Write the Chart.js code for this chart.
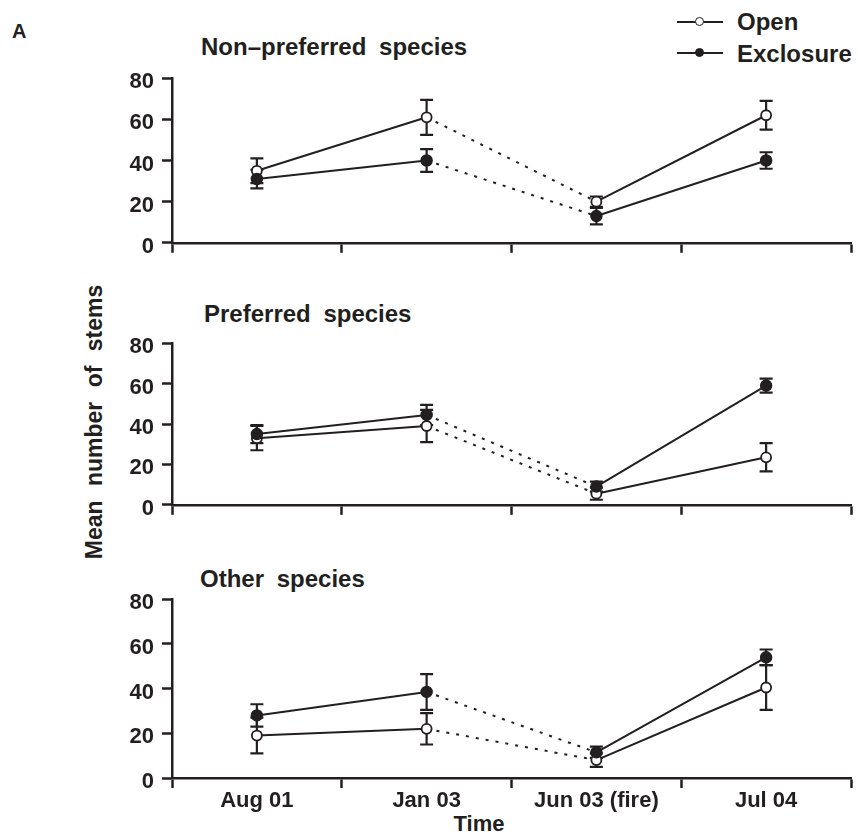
<!DOCTYPE html>
<html lang="en">
<head>
<meta charset="UTF-8" />
<title>Mean number of stems</title>
<script src="https://cdn.jsdelivr.net/npm/chart.js"></script>
<style>
  body { margin: 0; background: #fff; }
  #quadro {
    position: relative; width: 858px; height: 834px; overflow: hidden;
    font-family: "Liberation Sans", Arial, sans-serif; font-weight: bold; color: #231f20;
  }
  .txt { position: absolute; white-space: nowrap; line-height: 1; }
  .titulo { font-size: 24px; word-spacing: 6px; }
  .painel { position: absolute; left: 0; }
  .leg { position: absolute; left: 677px; width: 46px; height: 2px; background: #231f20; }
  .leg span {
    position: absolute; left: 18px; top: -4px; width: 7px; height: 7px;
    border: 1.6px solid #231f20; border-radius: 50%; background: #fff;
  }
  .leg span.cheio { background: #231f20; }
</style>
</head>
<body>
<div id="quadro">
  <div class="txt" style="left:12px; top:21px; font-size:20px;">A</div>

  <div class="leg" style="top:21px;"><span></span></div>
  <div class="txt" style="left:737px; top:10px; font-size:24px;">Open</div>
  <div class="leg" style="top:52px;"><span class="cheio"></span></div>
  <div class="txt" style="left:737px; top:42px; font-size:24px;">Exclosure</div>

  <div class="txt titulo" style="left:201px; top:35px;">Non–preferred species</div>
  <div class="txt titulo" style="left:204px; top:302px;">Preferred species</div>
  <div class="txt titulo" style="left:200px; top:567px;">Other species</div>

  <div class="txt" style="left:94px; top:422px; font-size:23px; word-spacing:8px; transform: translate(-50%, -50%) rotate(-90deg);">Mean number of stems</div>
  <div class="txt" style="left:479px; top:813px; font-size:22px; transform: translateX(-50%);">Time</div>

  <div class="painel" style="top:57px;"><canvas id="g1" width="858" height="207"></canvas></div>
  <div class="painel" style="top:322px;"><canvas id="g2" width="858" height="204"></canvas></div>
  <div class="painel" style="top:578px;"><canvas id="g3" width="858" height="236"></canvas></div>
</div>

<script>
  const categorias = ["Aug 01", "Jan 03", "Jun 03 (fire)", "Jul 04"];
  const yTicks = [0, 20, 40, 60, 80];
  const series = ["Open", "Exclosure"];

  // Non-preferred species
  const naoPrefOpen = [35, 61, 20, 62];
  const naoPrefOpenErr = [6, 8.5, 2.5, 7];
  const naoPrefExcl = [31, 40, 13, 40];
  const naoPrefExclErr = [4.5, 5.5, 4, 4];

  // Preferred species
  const prefOpen = [33, 39, 5.5, 23.5];
  const prefOpenErr = [6, 8, 3, 7];
  const prefExcl = [35, 44.5, 9, 59];
  const prefExclErr = [4.5, 5, 2.5, 3.5];

  // Other species
  const outrasOpen = [19, 22, 8, 40.5];
  const outrasOpenErr = [8, 7, 3, 10];
  const outrasExcl = [28, 38.5, 11.5, 54];
  const outrasExclErr = [5, 8, 2.5, 3.5];

  const tinta = "#231f20";
  const fonte = "'Liberation Sans', Arial, sans-serif";

  // Barras de erro (desenhadas antes das linhas e pontos)
  const barrasErro = {
    id: "barrasErro",
    beforeDatasetsDraw(chart) {
      const ctx = chart.ctx;
      const y = chart.scales.y;
      chart.data.datasets.forEach((ds, i) => {
        chart.getDatasetMeta(i).data.forEach((pt, j) => {
          const e = ds.erros[j];
          const topo = y.getPixelForValue(ds.data[j] + e);
          const base = y.getPixelForValue(ds.data[j] - e);
          ctx.save();
          ctx.strokeStyle = tinta;
          ctx.lineWidth = 2.2;
          ctx.beginPath();
          ctx.moveTo(pt.x, topo); ctx.lineTo(pt.x, base);
          ctx.moveTo(pt.x - 6.5, topo); ctx.lineTo(pt.x + 6.5, topo);
          ctx.moveTo(pt.x - 6.5, base); ctx.lineTo(pt.x + 6.5, base);
          ctx.stroke();
          ctx.restore();
        });
      });
    }
  };

  // trecho Jan 03 -> Jun 03 tracejado
  const tracejado = { borderDash: c => c.p0DataIndex === 1 ? [3, 7] : undefined };

  function painel(id, open, openErr, excl, exclErr, comRotulos, alturaX) {
    new Chart(document.getElementById(id), {
      type: "line",
      data: {
        labels: categorias,
        datasets: [
          {
            label: series[1], data: excl, erros: exclErr, order: 0,
            borderColor: tinta, borderWidth: 2, backgroundColor: tinta,
            pointRadius: 5.5, pointBorderWidth: 1.5, pointBorderColor: tinta, pointBackgroundColor: tinta,
            segment: tracejado, clip: false
          },
          {
            label: series[0], data: open, erros: openErr, order: 1,
            borderColor: tinta, borderWidth: 2, backgroundColor: "#fff",
            pointRadius: 5, pointBorderWidth: 1.8, pointBorderColor: tinta, pointBackgroundColor: "#fff",
            segment: tracejado, clip: false
          }
        ]
      },
      options: {
        responsive: false,
        animation: false,
        layout: { padding: { top: 20, right: 1, left: 0, bottom: 0 } },
        plugins: { legend: { display: false }, tooltip: { enabled: false } },
        scales: {
          x: {
            offset: true,
            grid: { offset: true, drawOnChartArea: false, tickLength: 10, tickWidth: 2.5, color: tinta },
            border: { color: tinta, width: 2.5 },
            ticks: {
              display: comRotulos, autoSkip: false, maxRotation: 0, padding: 0,
              color: tinta, font: { family: fonte, size: 22, weight: "bold" }
            },
            afterFit: s => { s.height = alturaX; }
          },
          y: {
            min: 0, max: 80,
            afterBuildTicks: s => { s.ticks = yTicks.map(v => ({ value: v })); },
            grid: { drawOnChartArea: false, tickLength: 10, tickWidth: 2.5, color: tinta },
            border: { color: tinta, width: 2.5 },
            ticks: {
              padding: 8, labelOffset: 4, color: tinta,
              font: { family: fonte, size: 22, weight: "bold" }
            },
            afterFit: s => { s.width = 172; }
          }
        }
      },
      plugins: [barrasErro]
    });
  }

  painel("g1", naoPrefOpen, naoPrefOpenErr, naoPrefExcl, naoPrefExclErr, false, 14);
  painel("g2", prefOpen, prefOpenErr, prefExcl, prefExclErr, false, 14);
  painel("g3", outrasOpen, outrasOpenErr, outrasExcl, outrasExclErr, true, 36);
</script>
</body>
</html>
